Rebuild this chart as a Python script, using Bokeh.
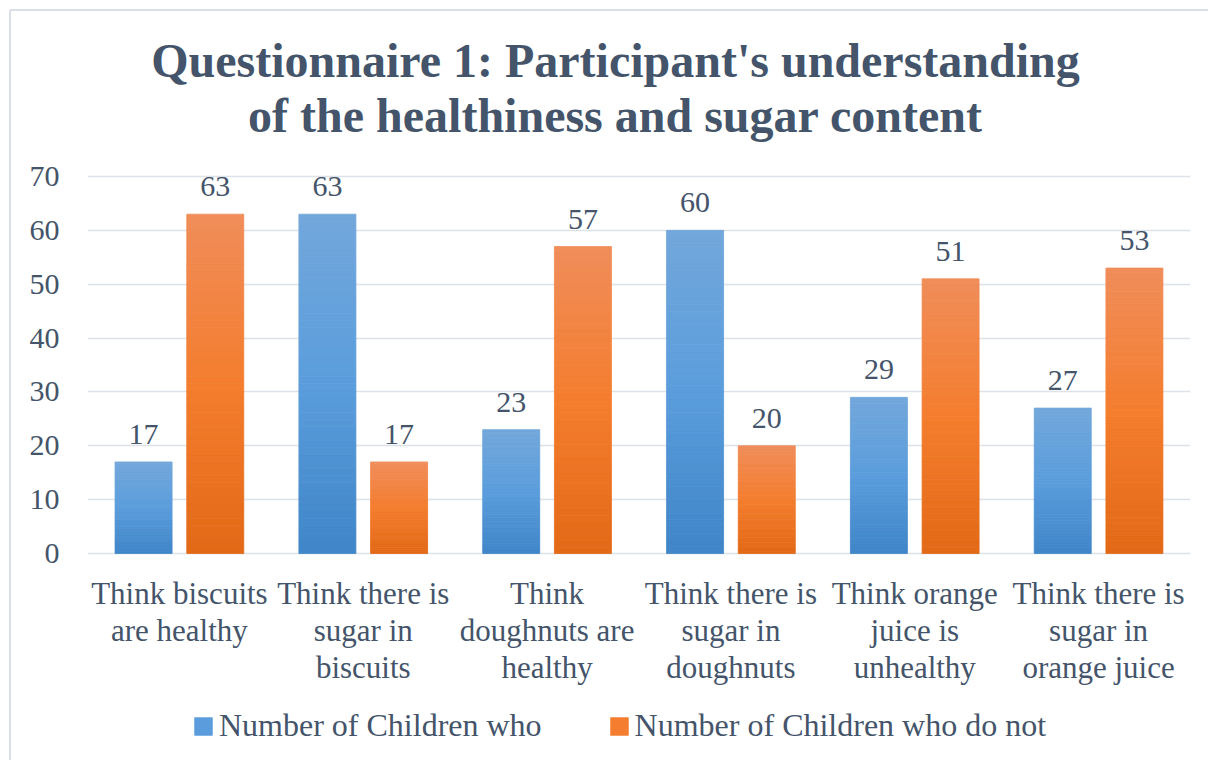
from bokeh.plotting import figure
from bokeh.models import ColumnDataSource, FactorRange, Legend, LegendItem, FixedTicker, LabelSet, Label, Range1d
from bokeh.transform import dodge
from bokeh.embed import file_html
from bokeh.resources import INLINE

# ---------------- data ----------------
categories = [
    "Think biscuits\nare healthy",
    "Think there is\nsugar in\nbiscuits",
    "Think\ndoughnuts are\nhealthy",
    "Think there is\nsugar in\ndoughnuts",
    "Think orange\njuice is\nunhealthy",
    "Think there is\nsugar in\norange juice",
]
children_who = [17, 63, 23, 60, 29, 27]
children_who_not = [63, 17, 57, 20, 51, 53]
series_names = ["Number of Children who", "Number of Children who do not"]
y_ticks = [0, 10, 20, 30, 40, 50, 60, 70]
title_lines = ["Questionnaire 1: Participant's understanding",
               "of the healthiness and sugar content"]

# ---------------- style / layout ----------------
FONT = "Liberation Serif"
TXT = "#44546A"
GRID = "#DDE2E9"
EDGE = "#D9DFE8"
BLUE_STOPS = [(0.0, (63, 133, 200)), (0.5, (91, 157, 220)), (1.0, (114, 167, 219))]
ORANGE_STOPS = [(0.0, (226, 105, 22)), (0.5, (244, 125, 46)), (1.0, (240, 141, 90))]
N_SLICES = 48
OFFSET = 0.195
BAR_W = 0.31
# the plotting frame spans the whole picture height so that the title,
# category labels and legend (drawn as annotations) are not clipped
Y_START, Y_END = -37.5, 101.75
TITLE_X = 2.872          # centre of the title, in category units
TITLE_Y = (91.5, 81.3)   # baselines of the two title lines
CAT_LINE_STEP = 37       # px between lines of a category label


def grad(stops, t):
    for (t0, c0), (t1, c1) in zip(stops[:-1], stops[1:]):
        if t0 <= t <= t1:
            f = (t - t0) / (t1 - t0)
            c = [round(a + (b - a) * f) for a, b in zip(c0, c1)]
            return "#%02x%02x%02x" % tuple(c)
    return "#%02x%02x%02x" % stops[-1][1]


def slices(values, stops):
    cat, bot, top, col = [], [], [], []
    for c, v in zip(categories, values):
        for i in range(N_SLICES):
            cat.append(c)
            bot.append(v * i / N_SLICES)
            top.append(v * (i + 1) / N_SLICES)
            col.append(grad(stops, (i + 0.5) / N_SLICES))
    return ColumnDataSource(dict(cat=cat, bottom=bot, top=top, color=col))


p = figure(
    x_range=FactorRange(*categories),
    y_range=Range1d(Y_START, Y_END),
    width=1208,
    height=760,
    output_backend="svg",
    toolbar_location=None,
    min_border_left=87,
    min_border_right=18,
    min_border_top=5,
    min_border_bottom=5,
)
# thin chart-area edge (top and left) painted behind a transparent canvas
p.styles = {
    "background": (
        f"linear-gradient({EDGE},{EDGE}) 10px 9px / 1198px 2px no-repeat, "
        f"linear-gradient({EDGE},{EDGE}) 9px 10px / 2px 750px no-repeat, white"
    )
}

# title
for line, ty in zip(title_lines, TITLE_Y):
    p.add_layout(Label(x=TITLE_X, y=ty, text=line, text_align="center", text_baseline="alphabetic",
                       text_font=FONT, text_font_size="48px", text_font_style="bold",
                       text_color=TXT))

bar_renderers = []
for vals, stops, off in [(children_who, BLUE_STOPS, -OFFSET), (children_who_not, ORANGE_STOPS, OFFSET)]:
    src = slices(vals, stops)
    r = p.vbar(x=dodge("cat", off, range=p.x_range), bottom="bottom", top="top", width=BAR_W,
               source=src, fill_color="color", line_color="color", line_width=0.8)
    bar_renderers.append(r)
    lab = ColumnDataSource(dict(cat=categories, v=vals, t=[str(v) for v in vals]))
    p.add_layout(LabelSet(x=dodge("cat", off, range=p.x_range), y="v", text="t", source=lab,
                          text_align="center", text_baseline="alphabetic", y_offset=18,
                          text_font=FONT, text_font_size="30px", text_color=TXT))

# category labels under the bars, one centred row per text line
split = [c.split("\n") for c in categories]
for k in range(max(len(s) for s in split)):
    cats = [c for c, s in zip(categories, split) if len(s) > k]
    texts = [s[k] for s in split if len(s) > k]
    src = ColumnDataSource(dict(cat=cats, y0=[0] * len(cats), t=texts))
    p.add_layout(LabelSet(x="cat", y="y0", text="t", source=src,
                          text_align="center", text_baseline="top",
                          y_offset=-22 - CAT_LINE_STEP * k,
                          text_font=FONT, text_font_size="31px", text_color=TXT))

legend = Legend(
    items=[LegendItem(label=series_names[0], renderers=[bar_renderers[0]], index=N_SLICES // 2),
           LegendItem(label=series_names[1], renderers=[bar_renderers[1]], index=N_SLICES // 2)],
    orientation="horizontal",
    location=(105, 11),
    label_text_font=FONT,
    label_text_font_size="32px",
    label_text_color=TXT,
    glyph_width=22,
    glyph_height=22,
    label_standoff=5,
    spacing=66,
    padding=0,
    margin=0,
    border_line_alpha=0,
    background_fill_alpha=0,
)
p.add_layout(legend, "center")

# axes
p.xaxis.visible = False
p.yaxis.ticker = FixedTicker(ticks=y_ticks)
p.yaxis.axis_line_color = None
p.yaxis.major_tick_line_color = None
p.yaxis.minor_tick_line_color = None
p.yaxis.major_tick_out = 0
p.yaxis.major_tick_in = 0
p.yaxis.major_label_text_font = FONT
p.yaxis.major_label_text_font_size = "30px"
p.yaxis.major_label_text_color = TXT
p.yaxis.major_label_standoff = 28

p.xgrid.grid_line_color = None
p.ygrid.grid_line_color = GRID
p.ygrid.grid_line_width = 1.6
p.outline_line_color = None
p.background_fill_alpha = 0
p.border_fill_alpha = 0

open("out.html", "w").write(file_html(p, INLINE))
